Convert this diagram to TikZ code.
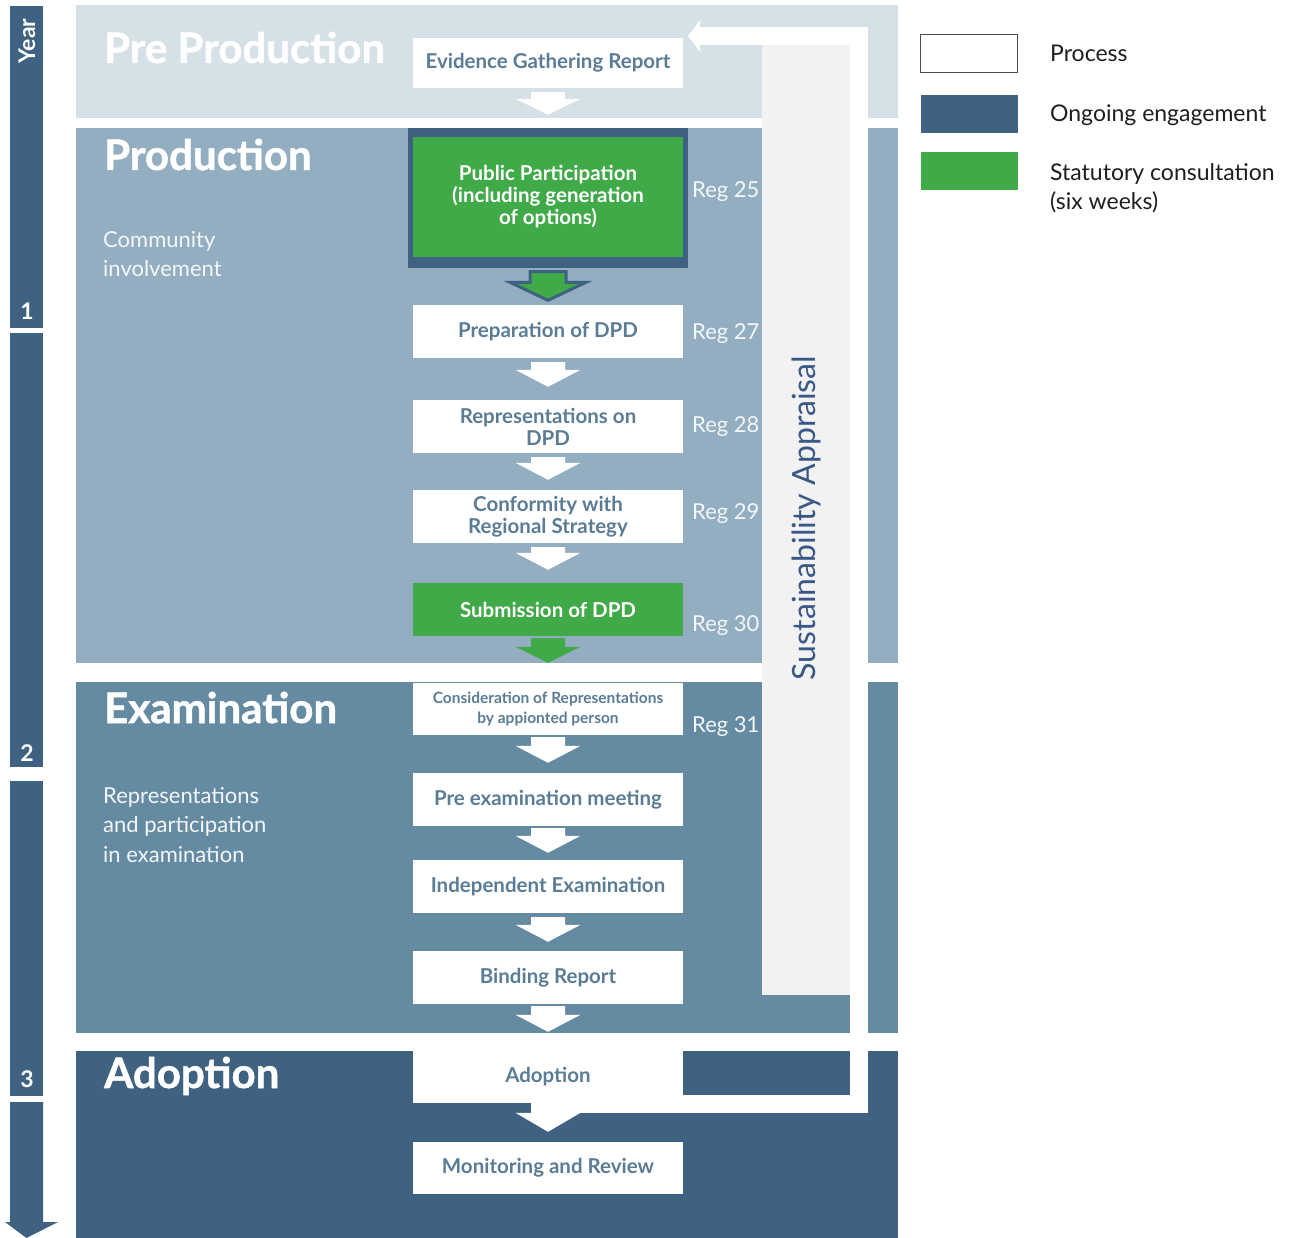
\documentclass[tikz,border=0pt]{standalone}
\usepackage{fontspec}
\setmainfont{Lato}
\newfontfamily\headfont{Lato}[BoldFeatures={FakeBold=1.2}]
\usetikzlibrary{calc}

\definecolor{prebg}{HTML}{D5E0E7}
\definecolor{prodbg}{HTML}{93AEC1}
\definecolor{exambg}{HTML}{658BA2}
\definecolor{adoptbg}{HTML}{3F6281}
\definecolor{navy}{HTML}{3F6282}
\definecolor{statgreen}{HTML}{40A948}
\definecolor{boxtext}{HTML}{5A7C95}
\definecolor{sacol}{HTML}{F2F2F2}
\definecolor{satext}{HTML}{3A5886}
\definecolor{softwhite}{HTML}{F4F7F9}
\definecolor{legendtext}{HTML}{1E1E1E}

% block arrow between two stacked boxes:
% style, from, to, gap below from, gap above to, stem half width, head half width, head length
\newcommand\blockflow[8]{%
  \path[#1] let \p1=([yshift=-#4]#2.south), \p2=([yshift=#5]#3.north) in
    (\x1-#6,\y1) -- (\x1+#6,\y1) -- (\x1+#6,\y2+#8) -- (\x1+#7,\y2+#8)
    -- (\x1,\y2) -- (\x1-#7,\y2+#8) -- (\x1-#6,\y2+#8) -- cycle;}

\begin{document}
\begin{tikzpicture}[x=1pt,y=-1pt,
  procbox/.style={fill=white, text=boxtext, font=\bfseries\fontsize{20.5}{22}\selectfont,
    minimum width=270pt, minimum height=53pt, inner sep=0pt, align=center},
  statbox/.style={procbox, fill=statgreen, text=white},
  reglabel/.style={anchor=base west, text=softwhite, font=\fontsize{22}{24}\selectfont, inner sep=0pt},
  phase/.style={anchor=base west, text=white, font=\headfont\bfseries\fontsize{42}{44}\selectfont, inner sep=0pt},
  phasenote/.style={anchor=base west, text=softwhite, font=\fontsize{22}{29.5}\selectfont, inner sep=0pt, align=left},
  yearlabel/.style={text=white, font=\bfseries\fontsize{23}{23}\selectfont, inner sep=0pt},
  legendbox/.style={minimum width=97pt, minimum height=38pt, inner sep=0pt},
  legendlabel/.style={anchor=base west, text=legendtext, font=\fontsize{23}{29}\selectfont, inner sep=0pt, align=left},
  whiteflow/.style={fill=white},
  greenflow/.style={fill=statgreen},
  framedflow/.style={fill=statgreen, draw=navy, line width=3pt, line join=miter}]

\useasboundingbox (0,0) rectangle (1294,1238);
\fill[white] (0,0) rectangle (1294,1238);

% ---- year scale ----
\fill[navy] (10,6) rectangle (43,328);
\fill[navy] (10,333) rectangle (43,767);
\fill[navy] (10,781) rectangle (43,1096);
\fill[navy] (10,1102) -- (43,1102) -- (43,1222) -- (58,1222) -- (26.5,1238) -- (5,1222) -- (10,1222) -- cycle;
\node[yearlabel, rotate=90] (year) at (27,41) {Year};
\node[yearlabel] (y1) at (27,311) {1};
\node[yearlabel] (y2) at (27,753) {2};
\node[yearlabel] (y3) at (27,1079) {3};

% ---- phase bands ----
\fill[prebg] (76,5) rectangle (898,118);
\fill[prodbg] (76,128) rectangle (898,663);
\fill[exambg] (76,682) rectangle (898,1033);
\fill[adoptbg] (76,1051) rectangle (898,1238);

\node[phase] (hpre) at (104,63) {Pre Production};
\node[phase] (hprod) at (104,170) {Production};
\node[phase] (hexam) at (104,723) {Examination};
\node[phase] (hadopt) at (104,1088) {Adoption};

% multi-line notes are placed by the baseline of their last line
\node[phasenote] (nprod) at (103,277) {Community\\involvement};
\node[phasenote] (nexam) at (103,862) {Representations\\and participation\\in examination};

% ---- sustainability appraisal column ----
\fill[sacol] (762,45) rectangle (850,995);
\node[rotate=90, text=satext, font=\fontsize{32}{32}\selectfont, inner sep=0pt] (sa) at (806,518) {Sustainability Appraisal};

% ---- process boxes ----
\node[procbox, minimum height=50pt] (egr) at (548,63) {Evidence Gathering Report};
\node[fill=navy, minimum width=280pt, minimum height=140pt, inner sep=0pt] (ppframe) at (548,198) {};
\node[statbox, minimum height=120pt] (pp) at (548,197) {Public Participation\\(including generation\\of options)};
\node[procbox] (prep) at (548,331.5) {Preparation of DPD};
\node[procbox] (rep) at (548,426.5) {Representations on\\DPD};
\node[procbox] (conf) at (548,516.5) {Conformity with\\Regional Strategy};
\node[statbox] (sub) at (548,609.5) {Submission of DPD};
\node[procbox, minimum height=52pt, font=\bfseries\fontsize{15.5}{20}\selectfont] (cons) at (548,709) {Consideration of Representations\\by appionted person};
\node[procbox] (pre) at (548,799.5) {Pre examination meeting};
\node[procbox] (ind) at (548,886.5) {Independent Examination};
\node[procbox] (bind) at (548,977.5) {Binding Report};
\node[procbox] (adopt) at (548,1076.5) {Adoption};
\node[procbox, minimum height=52pt] (mon) at (548,1168) {Monitoring and Review};

% ---- regulation labels ----
\node[reglabel] (r25) at (692,198) {Reg 25};
\node[reglabel] (r27) at (692,340) {Reg 27};
\node[reglabel] (r28) at (692,433) {Reg 28};
\node[reglabel] (r29) at (692,520) {Reg 29};
\node[reglabel] (r30) at (692,631) {Reg 30};
\node[reglabel] (r31) at (692,732) {Reg 31};

% ---- return loop of the appraisal ----
\coordinate (saret) at (688,36);
\draw[white, line width=18pt, line join=miter]
  ([yshift=-1pt]adopt.south) -| ($(saret)+(171,0)$) -- ($(saret)+(12,0)$);
\fill[white] ($(saret)+(12,-16)$) -- (saret) -- ($(saret)+(12,16)$) -- cycle;

% ---- flow arrows ----
\blockflow{whiteflow}{egr}{ppframe}{4pt}{13pt}{17pt}{32.5pt}{16pt}
\blockflow{framedflow}{ppframe}{prep}{3.5pt}{4.5pt}{18pt}{38pt}{18pt}
\blockflow{whiteflow}{prep}{rep}{4pt}{13pt}{17pt}{32.5pt}{17pt}
\blockflow{whiteflow}{rep}{conf}{4pt}{10pt}{17pt}{32.5pt}{17pt}
\blockflow{whiteflow}{conf}{sub}{4pt}{13pt}{17pt}{32.5pt}{17pt}
\blockflow{greenflow}{sub}{cons}{2pt}{20pt}{17pt}{32.5pt}{16pt}
\blockflow{whiteflow}{cons}{pre}{2pt}{10pt}{17pt}{32.5pt}{17pt}
\blockflow{whiteflow}{pre}{ind}{2pt}{7pt}{17pt}{32.5pt}{17pt}
\blockflow{whiteflow}{ind}{bind}{4pt}{9pt}{17pt}{32.5pt}{17pt}
\blockflow{whiteflow}{bind}{adopt}{2pt}{18pt}{17pt}{32.5pt}{17pt}
\blockflow{whiteflow}{adopt}{mon}{0pt}{10pt}{17pt}{32.5pt}{19pt}

% ---- legend ----
\node[legendbox, fill=white, draw=black!70, line width=1.5pt] (kproc) at (969,53.5) {};
\node[legendbox, fill=navy] (keng) at (969,114) {};
\node[legendbox, fill=statgreen] (kstat) at (969,171) {};
\node[legendlabel] (lproc) at (1050,62) {Process};
\node[legendlabel] (leng) at (1050,122) {Ongoing engagement};
\node[legendlabel] (lstat) at (1050,210) {Statutory consultation\\(six weeks)};

\end{tikzpicture}
\end{document}
